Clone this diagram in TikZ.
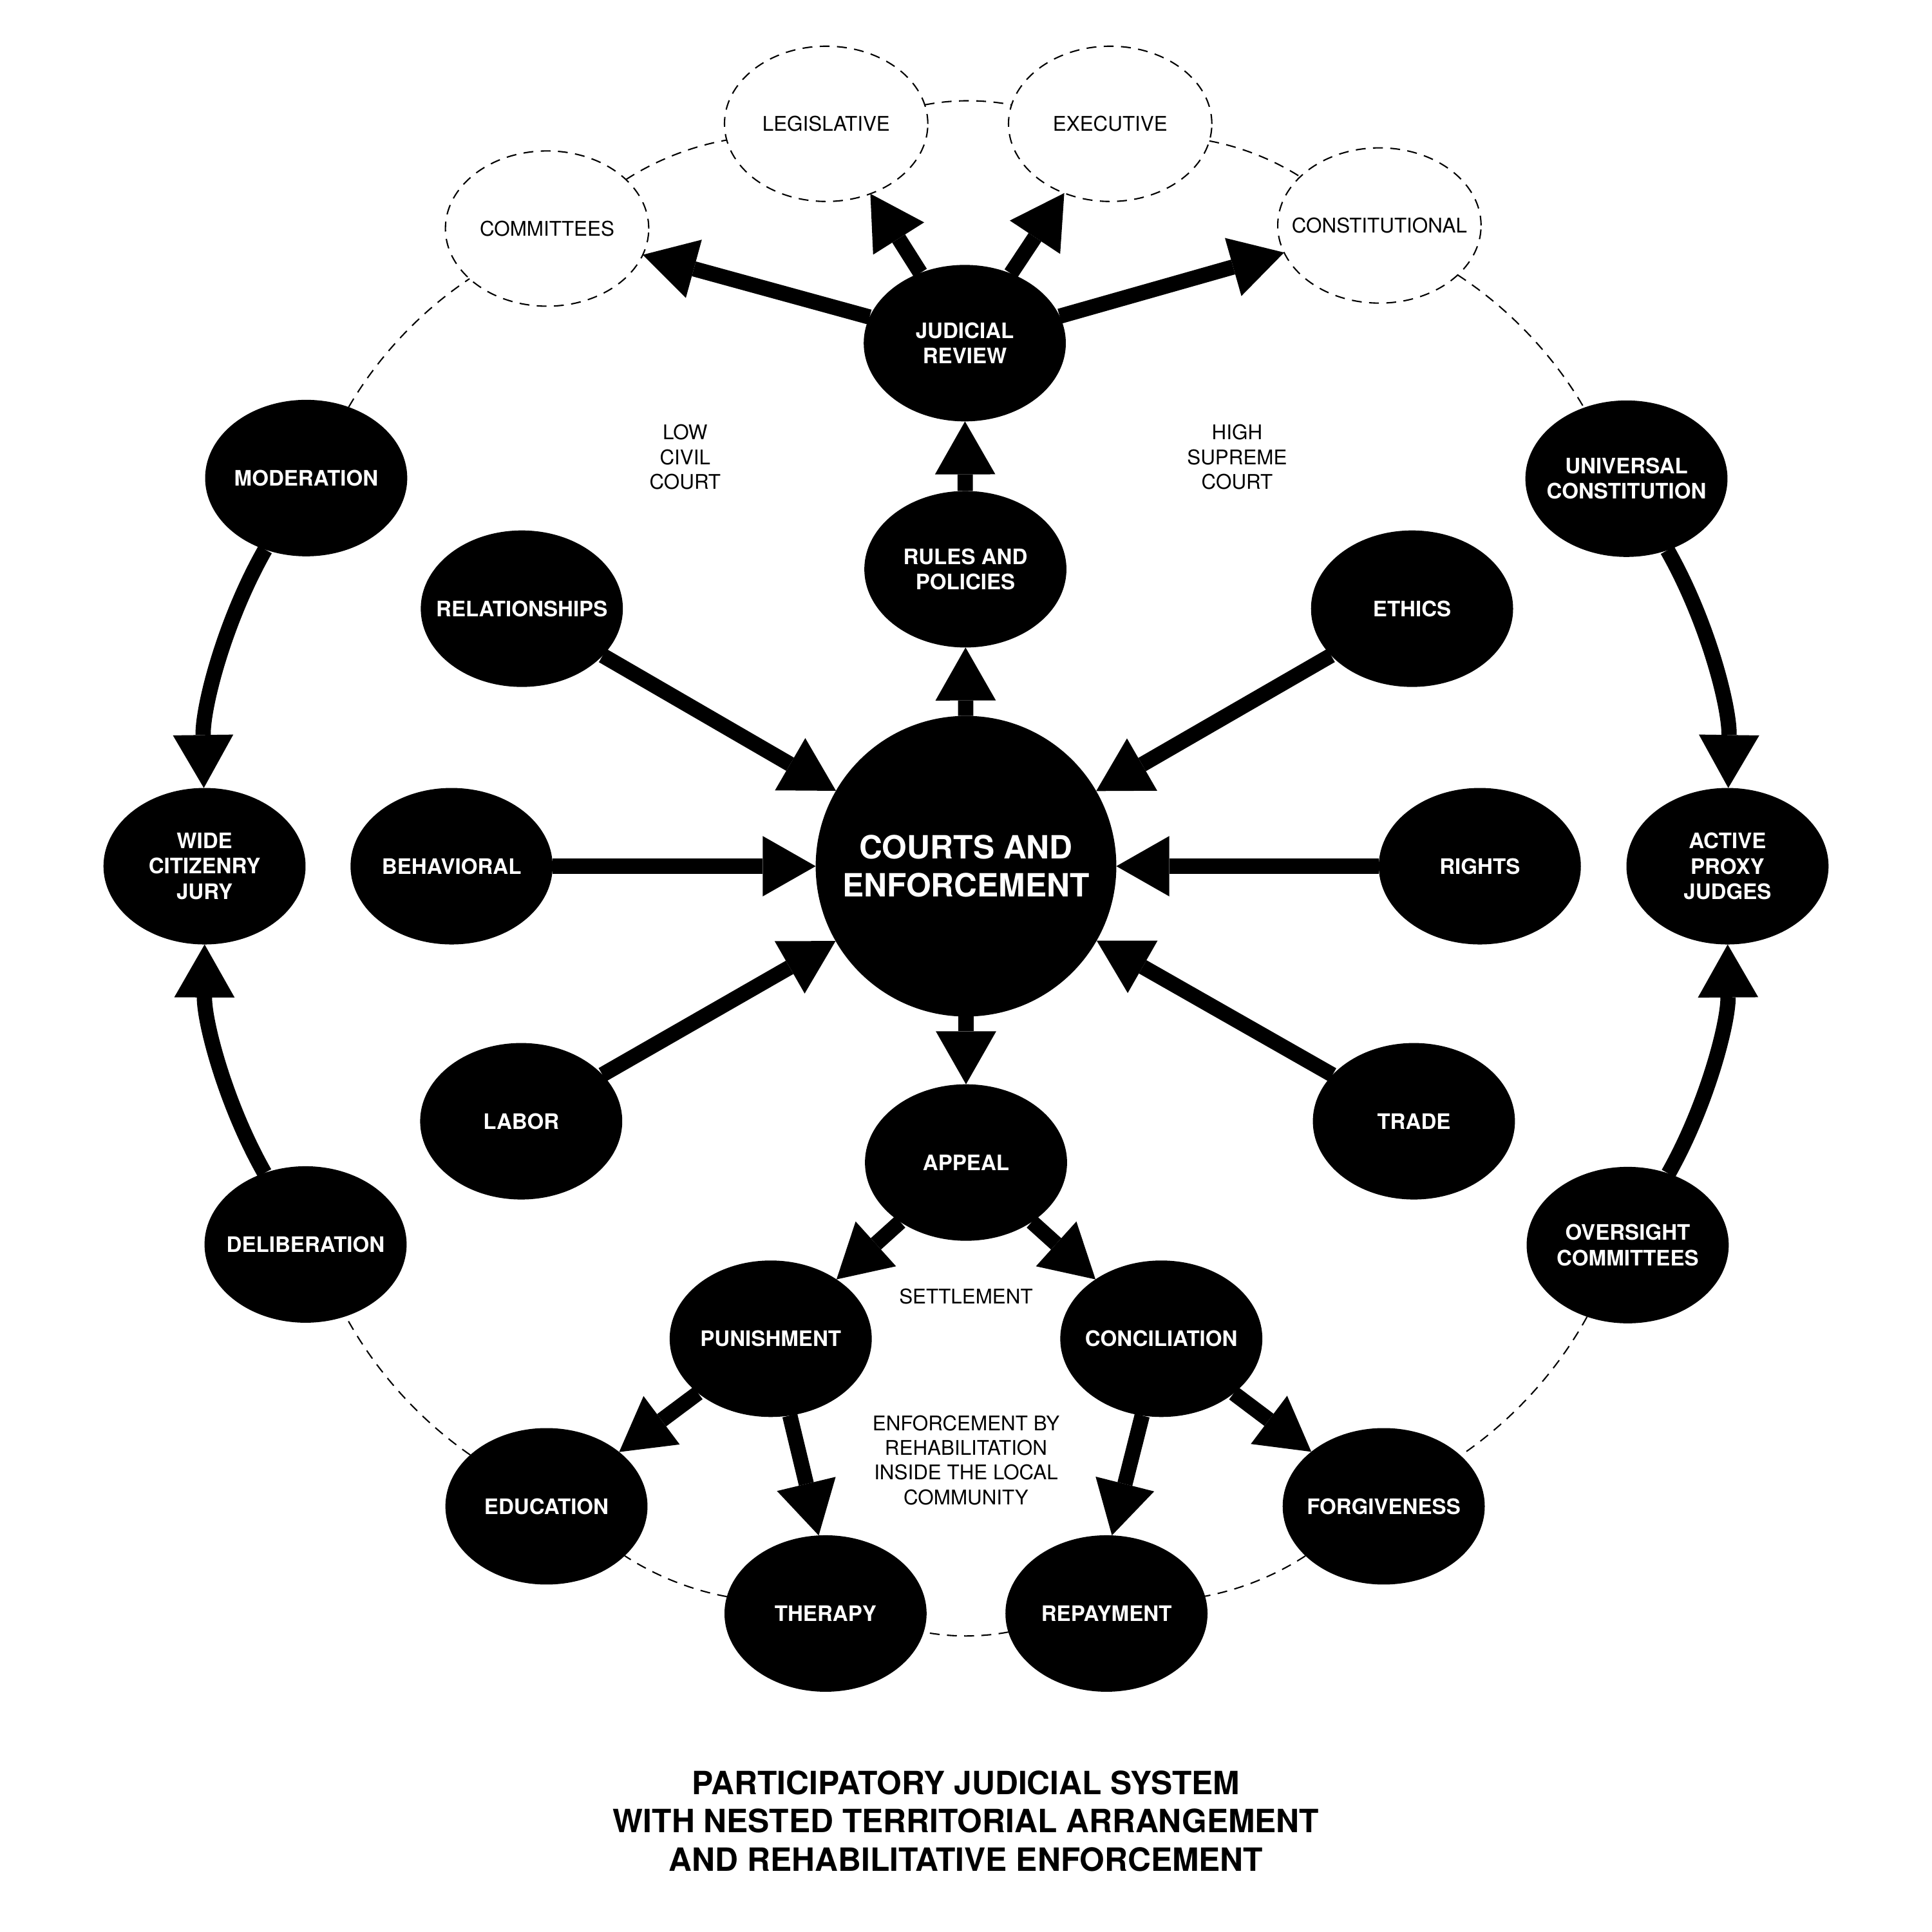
\documentclass[tikz,border=0pt]{standalone}
\usepackage{fontspec}
\setmainfont{TeX Gyre Heros}
\usetikzlibrary{arrows.meta,shapes.geometric}
\begin{document}
\begin{tikzpicture}[x=1pt,y=-1pt,
  blob/.style={ellipse, fill=black, text=white, minimum width=164pt, minimum height=127pt, inner xsep=-70pt, inner ysep=0pt, outer sep=0pt, align=center, font=\fontsize{17.3pt}{20.5pt}\selectfont\bfseries},
  ghost/.style={ellipse, draw=black, line width=1.1pt, dash pattern=on 8pt off 6pt, minimum width=165pt, minimum height=126pt, inner xsep=-70pt, inner ysep=0pt, outer sep=0pt, align=center, font=\fontsize{16.4pt}{20pt}\selectfont},
  hub/.style={circle, fill=black, text=white, minimum size=244pt, inner sep=0pt, outer sep=0pt, align=center, font=\fontsize{26pt}{30.5pt}\selectfont\bfseries},
  lbl/.style={align=center, inner sep=0pt, font=\fontsize{16.4pt}{20pt}\selectfont},
  heading/.style={align=center, inner sep=0pt, font=\fontsize{26pt}{31pt}\selectfont\bfseries},
  flow/.style={line width=12.4pt, -{Triangle[length=43pt,width=49pt,line width=0pt]}},
  ring/.style={line width=1.1pt, dash pattern=on 8pt off 6pt, looseness=0.85},
  curvy/.style={flow, looseness=0.85},
]
\fill[white] (0,0) rectangle (1568,1568);
\useasboundingbox (0,0) rectangle (1568,1568);

% central hub and spokes
\node[hub] (CE) at (784,703) {COURTS AND\\ENFORCEMENT};
\node[blob] (JR) at (783,278.5) {JUDICIAL\\REVIEW};
\node[blob] (RP) at (783.5,462) {RULES AND\\POLICIES};
\node[blob] (REL) at (423.5,494) {RELATIONSHIPS};
\node[blob] (ETH) at (1146,494) {ETHICS};
\node[blob] (BEH) at (366.5,703) {BEHAVIORAL};
\node[blob] (RIG) at (1201,703) {RIGHTS};
\node[blob] (LAB) at (423,910) {LABOR};
\node[blob] (TRA) at (1147.5,910) {TRADE};
\node[blob] (APP) at (784,943.5) {APPEAL};
\node[blob] (PUN) at (625.5,1086.5) {PUNISHMENT};
\node[blob] (CON) at (942.5,1086.5) {CONCILIATION};

% outer ring
\node[blob] (EDU) at (443.5,1222.5) {EDUCATION};
\node[blob] (THE) at (670,1309.5) {THERAPY};
\node[blob] (REP) at (898,1309.5) {REPAYMENT};
\node[blob] (FOR) at (1123,1222.5) {FORGIVENESS};
\node[blob] (WCJ) at (166,703) {WIDE\\CITIZENRY\\JURY};
\node[blob] (MOD) at (248.5,388) {MODERATION};
\node[blob] (DEL) at (248,1010) {DELIBERATION};
\node[blob] (UC) at (1320,388.5) {UNIVERSAL\\CONSTITUTION};
\node[blob] (APJ) at (1402,703) {ACTIVE\\PROXY\\JUDGES};
\node[blob] (OC) at (1321,1010.5) {OVERSIGHT\\COMMITTEES};
\node[ghost] (COM) at (444,185.5) {COMMITTEES};
\node[ghost] (LEG) at (670.5,100.5) {LEGISLATIVE};
\node[ghost] (EXE) at (901,100.5) {EXECUTIVE};
\node[ghost] (CONS) at (1119.5,183) {CONSTITUTIONAL};

% free labels
\node[lbl] (low) at (556,371) {LOW\\CIVIL\\COURT};
\node[lbl] (high) at (1004,371) {HIGH\\SUPREME\\COURT};
\node[lbl] (settle) at (784,1052) {SETTLEMENT};
\node[lbl] (enf) at (784,1185) {ENFORCEMENT BY\\REHABILITATION\\INSIDE THE LOCAL\\COMMUNITY};
\node[heading] (title) at (784,1478) {PARTICIPATORY JUDICIAL SYSTEM\\WITH NESTED TERRITORIAL ARRANGEMENT\\AND REHABILITATIVE ENFORCEMENT};

% straight arrows
\draw[flow] (RP) -- (JR);
\draw[flow] (CE) -- (RP);
\draw[flow] (CE) -- (APP);
\draw[flow] (REL) -- (CE);
\draw[flow] (ETH) -- (CE);
\draw[flow] (BEH) -- (CE);
\draw[flow] (RIG) -- (CE);
\draw[flow] (LAB) -- (CE);
\draw[flow] (TRA) -- (CE);
\draw[flow] (JR) -- (COM);
\draw[flow] (JR) -- (LEG);
\draw[flow] (JR) -- (EXE);
\draw[flow] (JR) -- (CONS);
\draw[flow] (APP) -- (PUN);
\draw[flow] (APP) -- (CON);
\draw[flow] (PUN) -- (EDU);
\draw[flow] (PUN.284) -- (THE.95);
\draw[flow] (CON.256) -- (REP.86);
\draw[flow] (CON) -- (FOR);

% curved ring arrows
\draw[curvy] (MOD) to[bend right=15.2] (WCJ);
\draw[curvy] (DEL) to[bend left=14.9] (WCJ);
\draw[curvy] (UC) to[bend left=15.2] (APJ);
\draw[curvy] (OC) to[bend right=14.9] (APJ);

% dashed ring
\draw[ring] (MOD) to[bend left=13.1] (COM);
\draw[ring] (COM) to[bend left=11.3] (LEG);
\draw[ring] (LEG) to[bend left=10.9] (EXE);
\draw[ring] (EXE) to[bend left=10.9] (CONS);
\draw[ring] (CONS) to[bend left=13.4] (UC);
\draw[ring] (OC) to[bend left=13.5] (FOR);
\draw[ring] (FOR) to[bend left=11.2] (REP);
\draw[ring] (REP) to[bend left=10.7] (THE);
\draw[ring] (THE) to[bend left=11.3] (EDU);
\draw[ring] (EDU) to[bend left=13.4] (DEL);
\end{tikzpicture}
\end{document}
